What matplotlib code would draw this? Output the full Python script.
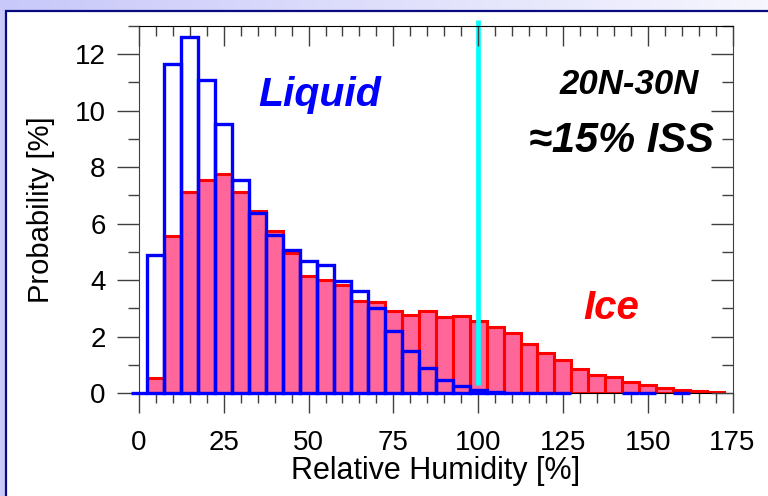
import numpy as np
import matplotlib
matplotlib.use("Agg")
import matplotlib.pyplot as plt
from matplotlib.patches import Rectangle
from matplotlib.ticker import MultipleLocator
from matplotlib.colors import LinearSegmentedColormap

# ---------------- data ----------------
bin_centers = np.arange(0, 175, 5)          # RH bin centres [%]
bin_width = 5
ice_pct = [0.0, 0.53, 5.55, 7.11, 7.55, 7.76, 7.11, 6.44, 5.75, 4.96,
           4.16, 3.99, 3.81, 3.25, 3.22, 2.92, 2.78, 2.89, 2.69, 2.71,
           2.55, 2.33, 2.12, 1.75, 1.43, 1.18, 0.86, 0.63, 0.57, 0.39,
           0.27, 0.16, 0.12, 0.06, 0.05]
nan = np.nan
liquid_pct = [0.0, 4.90, 11.65, 12.62, 11.09, 9.53, 7.56, 6.39, 5.60, 5.05,
              4.68, 4.52, 3.96, 3.63, 3.02, 2.19, 1.49, 0.90, 0.47, 0.25,
              0.10, 0.04, 0.0, 0.0, 0.0, 0.0, nan, nan, nan, 0.0,
              0.0, nan, 0.0, nan, nan]
iss_threshold = 100
xtick_step, xminor_step = 25, 5
ytick_step, yminor_step = 2, 1
region_label = "20N-30N"
iss_label = "\u224815% ISS"

plt.rcParams['font.family'] = ['Liberation Sans', 'DejaVu Sans']

W, H = 768, 496
fig = plt.figure(figsize=(W / 100, H / 100), dpi=100)

# ---------------- background panel ----------------
bg = fig.add_axes([0, 0, 1, 1], zorder=-10)
grad = np.linspace(0, 1, 256)[None, :]
cmap = LinearSegmentedColormap.from_list('bg', ['#c8c8fa', '#f6f6fe'])
bg.imshow(grad, aspect='auto', cmap=cmap, extent=[0, 1, 0, 1])
bg.add_patch(Rectangle((6 / W, -0.2), 1.5, 1.2 - 11 / H,
                       facecolor='white', edgecolor='#0a0a80', linewidth=1.6))
bg.set_xlim(0, 1)
bg.set_ylim(0, 1)
bg.axis('off')

# ---------------- main axes ----------------
pos = [139 / W, 1 - 393 / H, (732.5 - 139) / W, (393 - 26) / H]
ax = fig.add_axes(pos)
ax.set_facecolor('none')
ax.set_xlim(0, 175)
ax.set_ylim(0, 13)

liq = np.array(liquid_pct)
valid = ~np.isnan(liq)

ax.bar(bin_centers, ice_pct, width=bin_width, color='#ff6699',
       edgecolor='#ff0000', linewidth=2.2, zorder=2)
ax.bar(bin_centers[valid], liq[valid], width=bin_width, fill=False,
       edgecolor='#0000ff', linewidth=2.4, zorder=3, clip_on=False)
ax.vlines(iss_threshold, 0.3, 13.2, colors='#00ffff', linewidth=3.4,
          zorder=5, clip_on=False)

tick_col = '#404040'
ax.xaxis.set_major_locator(MultipleLocator(xtick_step))
ax.xaxis.set_minor_locator(MultipleLocator(xminor_step))
ax.yaxis.set_major_locator(MultipleLocator(ytick_step))
ax.yaxis.set_minor_locator(MultipleLocator(yminor_step))
ax.tick_params(axis='x', which='major', direction='out', length=14.4,
               width=1, color=tick_col, labelsize=20, pad=12)
ax.tick_params(axis='x', which='minor', direction='out', length=7.2,
               width=1, color=tick_col)
ax.tick_params(axis='y', which='major', direction='out', length=16,
               width=1, color=tick_col, labelsize=20, pad=8)
ax.tick_params(axis='y', which='minor', direction='out', length=8,
               width=1, color=tick_col)
ax.spines['top'].set_visible(False)
ax.spines['right'].set_visible(False)
ax.spines['left'].set_color(tick_col)
ax.spines['bottom'].set_color('black')

ax.set_xlabel('Relative Humidity [%]', fontsize=22, labelpad=0)
ax.set_ylabel('Probability [%]', fontsize=21, labelpad=14)

# top / right inward ticks
ax2 = fig.add_axes(pos, sharex=ax, sharey=ax)
ax2.set_facecolor('none')
ax2.xaxis.tick_top()
ax2.yaxis.tick_right()
ax2.tick_params(axis='both', which='major', direction='in', length=14.4,
                width=1, color=tick_col, labeltop=False, labelright=False,
                labelbottom=False, labelleft=False)
ax2.tick_params(axis='both', which='minor', direction='in', length=7.2,
                width=1, color=tick_col)
ax2.tick_params(axis='y', which='major', length=16)
ax2.tick_params(axis='y', which='minor', length=8)
ax2.spines['bottom'].set_visible(False)
ax2.spines['left'].set_visible(False)
ax2.spines['top'].set_color('black')
ax2.spines['right'].set_color(tick_col)

# annotations
ax.text(53.4, 10.17, 'Liquid', color='#0000ff', fontsize=29.5,
        fontweight='bold', fontstyle='italic', ha='center', va='baseline', zorder=6)
ax.text(139.2, 2.63, 'Ice', color='#ff0000', fontsize=29,
        fontweight='bold', fontstyle='italic', ha='center', va='baseline', zorder=6)
ax.text(165.0, 10.59, region_label, color='black', fontsize=25,
        fontweight='bold', fontstyle='italic', ha='right', va='baseline', zorder=6)
ax.text(169.4, 8.52, iss_label, color='black', fontsize=30,
        fontweight='bold', fontstyle='italic', ha='right', va='baseline', zorder=6)

fig.savefig('out.png', dpi=100)
